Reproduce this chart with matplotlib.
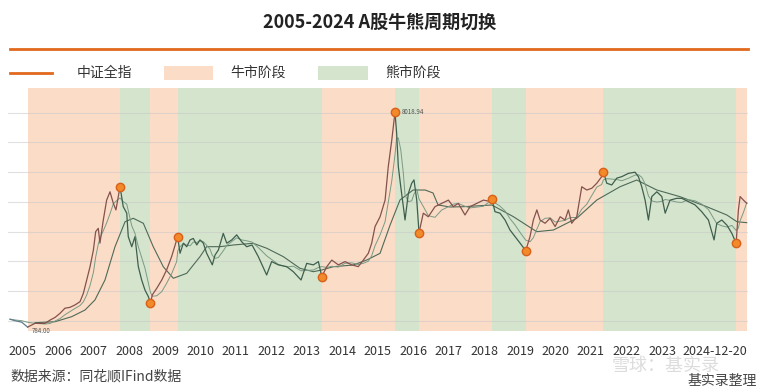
import matplotlib
matplotlib.use('Agg')
import matplotlib.pyplot as plt
import numpy as np
import pandas as pd

plt.rcParams['font.family'] = ['Noto Sans CJK SC', 'DejaVu Sans']
plt.rcParams['axes.unicode_minus'] = False

# 交易日序号（自 2005 年初起）与中证全指点位
price_day = [0, 33, 77, 116, 164, 230, 263, 296, 329, 361, 394, 427, 460, 482, 504, 526, 548, 563, 580, 591,
             613, 635, 657, 679, 696, 723, 744, 767, 777, 800, 821, 843, 865, 887, 909, 923, 935, 964, 997, 1029,
             1062, 1095, 1102, 1117, 1139, 1161, 1183, 1204, 1227, 1248, 1270, 1292, 1314, 1329, 1347, 1369, 1401, 1424, 1457, 1489,
             1522, 1555, 1590, 1631, 1686, 1719, 1763, 1818, 1861, 1912, 1949, 1993, 2026, 2048, 2081, 2114, 2157, 2201, 2245, 2288,
             2321, 2354, 2376, 2398, 2431, 2464, 2485, 2508, 2529, 2540, 2551, 2567, 2584, 2595, 2617, 2639, 2654, 2672, 2687, 2715,
             2748, 2792, 2836, 2880, 2912, 2945, 2989, 3022, 3066, 3110, 3140, 3165, 3186, 3219, 3252, 3285, 3318, 3351, 3388, 3416,
             3438, 3461, 3482, 3515, 3548, 3581, 3614, 3646, 3668, 3690, 3723, 3756, 3789, 3822, 3855, 3887, 3898, 3920, 3953, 3986,
             4019, 4062, 4106, 4128, 4150, 4172, 4194, 4216, 4249, 4282, 4304, 4336, 4380, 4413, 4456, 4500, 4544, 4588, 4625, 4643,
             4676, 4709, 4742, 4770, 4785, 4796, 4818, 4840]
price_val = [1050, 1000, 950, 784, 910, 910, 1020, 1110, 1250, 1420, 1450, 1530, 1640, 1920, 2370, 2820, 3380, 4000, 4110, 3610,
             4390, 5060, 5340, 4950, 4730, 5512, 4840, 4620, 3830, 3490, 3830, 2820, 2370, 2030, 1810, 1586, 1870, 2090, 2370, 2710,
             3160, 3720, 3808, 3270, 3610, 3490, 3720, 3770, 3550, 3720, 3610, 3270, 3040, 2880, 3210, 3380, 3940, 3610, 3720, 3890,
             3660, 3490, 3550, 3160, 2540, 2990, 2880, 2820, 2650, 2370, 2930, 2880, 2990, 2481, 2820, 3040, 2880, 2990, 2880, 2820,
             3040, 3270, 3610, 4170, 4500, 5060, 6190, 7080, 8018.94, 7310, 6190, 5510, 4840, 4390, 5290, 5630, 5740, 5060, 3963, 4620,
             4500, 4840, 4950, 5060, 4840, 4950, 4560, 4840, 4950, 5060, 5030, 5108, 4670, 4620, 4390, 4050, 3830, 3610, 3357, 3830,
             4390, 4730, 4390, 4280, 4450, 4170, 4500, 4390, 4730, 4280, 4500, 5510, 5400, 5460, 5630, 5850, 6017, 5630, 5570, 5800,
             5850, 5960, 6000, 5850, 5510, 5060, 4390, 5180, 5340, 5180, 4620, 5060, 5120, 5120, 5010, 4900, 4670, 4390, 3720, 4280,
             4390, 4220, 3940, 3606, 4730, 5180, 5060, 4950]

# 长期均线
ma_day = [164, 296, 405, 493, 558, 624, 690, 756, 810, 876, 941, 1007, 1073, 1161, 1248, 1292, 1380, 1467, 1598, 1687,
          1796, 1905, 1993, 2048, 2124, 2255, 2344, 2431, 2497, 2562, 2648, 2727, 2779, 2812, 2891, 2976, 3165, 3307, 3460, 3570,
          3723, 3855, 4008, 4117, 4249, 4402, 4577, 4709, 4775, 4840]
ma_val = [933, 966, 1135, 1360, 1697, 2370, 3492, 4333, 4448, 4280, 3492, 2818, 2428, 2596, 3155, 3492, 3492, 3549, 3606, 3438,
          3155, 2764, 2650, 2707, 2818, 2875, 3044, 3269, 4222, 5064, 5400, 5400, 5300, 4896, 4828, 4838, 4896, 4502, 3997, 4054,
          4448, 5064, 5512, 5737, 5400, 5175, 4838, 4559, 4333, 4300]

# 牛熊分界（交易日序号），从牛市开始交替
phase_bounds = [116, 723, 923, 1102, 2048, 2529, 2687, 3165, 3388, 3898, 4770, 4840]
turn_days = phase_bounds[1:-1]

tick_pos = [85, 318, 551, 785, 1018, 1251, 1484, 1717, 1951, 2184, 2417, 2650, 2883, 3117, 3350, 3583, 3816, 4049, 4283]
tick_lab = [str(y) for y in range(2005, 2024)]
end_label = '2024-12-20'

bull_c = '#fbdcc7'
bear_c = '#d5e4cd'
orange = '#e0691c'

fig = plt.figure(figsize=(7.59, 3.92), dpi=100)
ax = fig.add_axes([8 / 759, 1 - 331 / 392, 740 / 759, 243 / 392])

for i in range(len(phase_bounds) - 1):
    ax.axvspan(phase_bounds[i], phase_bounds[i + 1], color=bull_c if i % 2 == 0 else bear_c, lw=0, zorder=0)

for y in range(1000, 9000, 1000):
    ax.axhline(y, color='#c8c8c8', lw=0.8, alpha=0.55, zorder=1)

s = pd.Series(price_val, index=price_day)
mid_ma = s.rolling(4, min_periods=1).mean()

ax.plot(ma_day, ma_val, color='#4f6a58', lw=0.8, zorder=2)
ax.plot(mid_ma.index, mid_ma.values, color='#7a9a84', lw=0.7, zorder=2)

# 价格线：牛市段偏红，熊市段偏绿
for i in range(len(phase_bounds) - 1):
    lo, hi = phase_bounds[i], phase_bounds[i + 1]
    seg = s[(s.index >= lo) & (s.index <= hi)]
    ax.plot(seg.index, seg.values, color='#84524d' if i % 2 == 0 else '#3f5f4e', lw=0.9, zorder=3)
pre = s[s.index <= phase_bounds[0]]
ax.plot(pre.index, pre.values, color='#5d7b8a', lw=0.9, zorder=3)

tv = [s[d] for d in turn_days]
ax.plot(turn_days, tv, 'o', ms=6, mfc='#f28a2a', mec='#d8601a', mew=1, zorder=4)

ax.annotate('8018.94', (2529, 8018.94), xytext=(5, 0), textcoords='offset points',
            fontsize=4.5, color='#555555', va='center')
ax.annotate('784.00', (116, 784), xytext=(3, -3), textcoords='offset points',
            fontsize=4.5, color='#555555', va='center')

ax.set_xlim(-13, 4848)
ax.set_ylim(653, 8835)
ax.set_yticks([])
ax.set_xticks(tick_pos + [4840])
ax.set_xticklabels(tick_lab + [end_label], fontsize=9, color='#333333')
ax.get_xticklabels()[-1].set_ha('right')
ax.tick_params(axis='x', length=0, pad=10)
for sp in ax.spines.values():
    sp.set_visible(False)

fig.text(0.5, 1 - 22 / 392, '2005-2024 A股牛熊周期切换', ha='center', va='center',
         fontsize=13, fontweight='bold', color='#222222')
fig.add_artist(plt.Line2D([10 / 759, 748 / 759], [1 - 49 / 392] * 2, color=orange, lw=2))

ly = 1 - 73 / 392
fig.add_artist(plt.Line2D([10 / 759, 52 / 759], [ly, ly], color=orange, lw=2))
fig.text(77 / 759, ly, '中证全指', fontsize=10, va='center', color='#333333')
fig.add_artist(plt.Rectangle((164 / 759, ly - 7 / 392), 49 / 759, 14 / 392, color=bull_c, lw=0))
fig.text(230 / 759, ly, '牛市阶段', fontsize=10, va='center', color='#333333')
fig.add_artist(plt.Rectangle((318 / 759, ly - 7 / 392), 50 / 759, 14 / 392, color=bear_c, lw=0))
fig.text(385 / 759, ly, '熊市阶段', fontsize=10, va='center', color='#333333')

fig.text(10 / 759, 1 - 377 / 392, '数据来源：同花顺IFind数据', fontsize=10, va='center', color='#444444')
fig.text(612 / 759, 1 - 366 / 392, '雪球：基实录', fontsize=13, va='center', color='#d4d4d4', alpha=0.8)
fig.text(757 / 759, 1 - 381 / 392, '基实录整理', fontsize=10, va='center', ha='right', color='#444444')

fig.savefig('out.png', dpi=100)
